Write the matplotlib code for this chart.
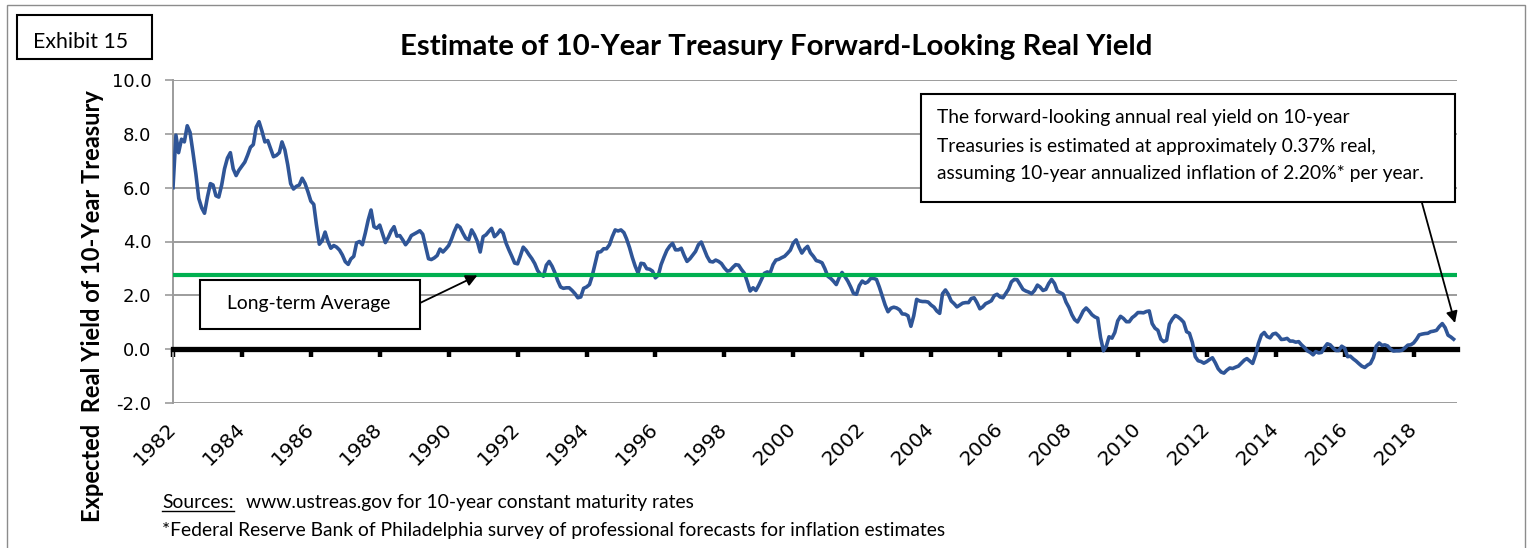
import numpy as np
import pandas as pd
import matplotlib
matplotlib.use("Agg")
import matplotlib.pyplot as plt
import matplotlib.dates as mdates
from matplotlib.patches import Rectangle
from matplotlib.lines import Line2D

# ---------------- data (monthly expected real yield, %) ----------------
ry_1982 = [6.0, 7.95, 7.3, 7.8, 7.7, 8.3, 8.05, 7.3, 6.5, 5.6, 5.25, 5.05]
ry_1983 = [5.65, 6.15, 6.1, 5.7, 5.65, 6.1, 6.7, 7.1, 7.3, 6.7, 6.45, 6.65]
ry_1984 = [6.8, 6.95, 7.2, 7.5, 7.6, 8.25, 8.45, 8.1, 7.7, 7.75, 7.45, 7.15]
ry_1985 = [7.2, 7.3, 7.7, 7.4, 6.85, 6.15, 5.95, 6.05, 6.1, 6.35, 6.15, 5.85]
ry_1986 = [5.5, 5.38, 4.63, 3.9, 4.03, 4.35, 4.0, 3.75, 3.85, 3.79, 3.68, 3.5]
ry_1987 = [3.25, 3.15, 3.35, 3.45, 3.95, 4.0, 3.88, 4.31, 4.8, 5.17, 4.55, 4.49]
ry_1988 = [4.61, 4.27, 3.96, 4.15, 4.39, 4.55, 4.2, 4.22, 4.06, 3.88, 4.02, 4.22]
ry_1989 = [4.28, 4.34, 4.4, 4.27, 3.82, 3.36, 3.33, 3.39, 3.48, 3.72, 3.61, 3.72]
ry_1990 = [3.85, 4.1, 4.37, 4.61, 4.53, 4.31, 4.12, 4.06, 4.43, 4.25, 4.0, 3.61]
ry_1991 = [4.18, 4.25, 4.37, 4.49, 4.18, 4.28, 4.43, 4.31, 3.94, 3.69, 3.45, 3.2]
ry_1992 = [3.17, 3.48, 3.79, 3.67, 3.51, 3.36, 3.18, 2.92, 2.78, 2.71, 3.12, 3.26]
ry_1993 = [3.08, 2.83, 2.55, 2.31, 2.26, 2.28, 2.28, 2.18, 2.06, 1.91, 1.94, 2.26]
ry_1994 = [2.31, 2.4, 2.71, 3.17, 3.6, 3.62, 3.73, 3.73, 3.88, 4.18, 4.43, 4.39]
ry_1995 = [4.43, 4.33, 4.1, 3.78, 3.41, 3.08, 2.83, 3.19, 3.17, 2.99, 2.97, 2.9]
ry_1996 = [2.65, 2.75, 3.14, 3.42, 3.67, 3.83, 3.93, 3.69, 3.69, 3.75, 3.48, 3.26]
ry_1997 = [3.36, 3.5, 3.63, 3.88, 3.98, 3.71, 3.45, 3.26, 3.24, 3.31, 3.26, 3.18]
ry_1998 = [3.02, 2.9, 2.92, 3.04, 3.14, 3.12, 2.96, 2.82, 2.5, 2.16, 2.28, 2.18]
ry_1999 = [2.38, 2.61, 2.82, 2.87, 2.83, 3.14, 3.31, 3.34, 3.4, 3.45, 3.56, 3.68]
ry_2000 = [3.94, 4.06, 3.8, 3.57, 3.72, 3.82, 3.58, 3.45, 3.29, 3.26, 3.21, 2.99]
ry_2001 = [2.71, 2.63, 2.53, 2.4, 2.65, 2.85, 2.7, 2.53, 2.31, 2.07, 2.04, 2.36]
ry_2002 = [2.53, 2.45, 2.5, 2.63, 2.63, 2.59, 2.31, 1.98, 1.64, 1.39, 1.52, 1.56]
ry_2003 = [1.53, 1.46, 1.31, 1.3, 1.24, 0.85, 1.24, 1.85, 1.79, 1.77, 1.77, 1.75]
ry_2004 = [1.64, 1.56, 1.42, 1.33, 2.06, 2.2, 2.04, 1.79, 1.69, 1.57, 1.64, 1.71]
ry_2005 = [1.73, 1.73, 1.88, 1.91, 1.73, 1.5, 1.57, 1.69, 1.74, 1.8, 1.99, 2.04]
ry_2006 = [1.94, 1.91, 2.06, 2.23, 2.5, 2.59, 2.58, 2.4, 2.22, 2.16, 2.12, 2.06]
ry_2007 = [2.18, 2.38, 2.31, 2.18, 2.22, 2.44, 2.59, 2.44, 2.15, 2.1, 2.04, 1.75]
ry_2008 = [1.55, 1.28, 1.1, 1.01, 1.2, 1.42, 1.53, 1.42, 1.28, 1.2, 1.15, 0.43]
ry_2009 = [-0.06, 0.12, 0.46, 0.41, 0.62, 1.05, 1.22, 1.14, 1.02, 1.02, 1.17, 1.25]
ry_2010 = [1.36, 1.36, 1.35, 1.4, 1.42, 0.95, 0.78, 0.7, 0.37, 0.28, 0.33, 0.93]
ry_2011 = [1.12, 1.25, 1.2, 1.11, 1.0, 0.65, 0.59, 0.25, -0.28, -0.43, -0.46, -0.52]
ry_2012 = [-0.46, -0.38, -0.32, -0.51, -0.73, -0.85, -0.89, -0.78, -0.7, -0.72, -0.67, -0.63]
ry_2013 = [-0.52, -0.41, -0.35, -0.44, -0.53, -0.21, 0.21, 0.52, 0.62, 0.47, 0.42, 0.56]
ry_2014 = [0.59, 0.49, 0.36, 0.37, 0.4, 0.3, 0.3, 0.26, 0.28, 0.16, 0.06, -0.06]
ry_2015 = [-0.12, -0.21, -0.09, -0.14, -0.12, 0.06, 0.2, 0.16, 0.04, -0.05, -0.05, 0.11]
ry_2016 = [0.04, -0.28, -0.26, -0.36, -0.44, -0.54, -0.63, -0.68, -0.59, -0.53, -0.31, 0.11]
ry_2017 = [0.23, 0.14, 0.16, 0.12, 0.0, -0.07, -0.06, -0.06, -0.04, 0.05, 0.15, 0.16]
ry_2018 = [0.23, 0.37, 0.53, 0.56, 0.58, 0.59, 0.65, 0.67, 0.7, 0.84, 0.95, 0.8]
ry_2019 = [0.52, 0.45, 0.37]

yearly = [ry_1982, ry_1983, ry_1984, ry_1985, ry_1986, ry_1987, ry_1988, ry_1989,
          ry_1990, ry_1991, ry_1992, ry_1993, ry_1994, ry_1995, ry_1996, ry_1997,
          ry_1998, ry_1999, ry_2000, ry_2001, ry_2002, ry_2003, ry_2004, ry_2005,
          ry_2006, ry_2007, ry_2008, ry_2009, ry_2010, ry_2011, ry_2012, ry_2013,
          ry_2014, ry_2015, ry_2016, ry_2017, ry_2018, ry_2019]
real_yield = [v for yr in yearly for v in yr]
start_month = "1982-01-01"
long_term_average = 2.74

tick_years = list(range(1982, 2019, 2))
tick_labels = [str(y) for y in tick_years]
y_ticks = [-2, 0, 2, 4, 6, 8, 10]
y_tick_labels = ["-2.0", "0.0", "2.0", "4.0", "6.0", "8.0", "10.0"]

title = "Estimate of 10-Year Treasury Forward-Looking Real Yield"
y_label = "Expected  Real Yield of 10-Year Treasury"
note_lines = ["The forward-looking annual real yield on 10-year",
              "Treasuries is estimated at approximately 0.37% real,",
              "assuming 10-year annualized inflation of 2.20%* per year."]
avg_label = "Long-term Average"
exhibit = "Exhibit 15"
src_head = "Sources:"
src_line1 = "www.ustreas.gov for 10-year constant maturity rates"
src_line2 = "*Federal Reserve Bank of Philadelphia survey of professional forecasts for inflation estimates"

# ---------------- figure ----------------
W, H = 1532, 548
fig = plt.figure(figsize=(W / 100, H / 100), dpi=100)
fig.patch.set_facecolor("white")


def fxy(x, y):
    return x / W, 1 - y / H


BLUE = "#2F5597"
GREEN = "#00B050"
GRID = "#9C9C9C"

ax_l, ax_r, ax_t, ax_b = 173, 1457, 80, 403
ax = fig.add_axes([ax_l / W, 1 - ax_b / H, (ax_r - ax_l) / W, (ax_b - ax_t) / H])

dates = pd.date_range(start_month, periods=len(real_yield), freq="MS")
ax.plot(dates, real_yield, color=BLUE, lw=2.6, zorder=3, solid_joinstyle="round")
ax.axhline(long_term_average, color=GREEN, lw=3.0, zorder=4)

ax.set_ylim(-2, 10)
ax.set_xlim(pd.Timestamp("1982-01-01"), pd.Timestamp("2019-04-06"))

ax.set_yticks(y_ticks)
ax.set_yticklabels(y_tick_labels)
ax.tick_params(axis="y", direction="out", length=5.5, width=1.2, color=GRID, pad=10,
               labelsize=13)
ax.grid(axis="y", color=GRID, lw=1.4, zorder=1)
ax.grid(axis="x", visible=False)
for side in ("top", "right"):
    ax.spines[side].set_visible(False)
ax.spines["left"].set_color(GRID)
ax.spines["left"].set_linewidth(1.4)

tick_nums = [mdates.date2num(pd.Timestamp(f"{y}-01-01")) for y in tick_years]
ax.spines["bottom"].set_position(("data", 0))
ax.spines["bottom"].set_color("black")
ax.spines["bottom"].set_linewidth(3.8)
ax.spines["bottom"].set_zorder(2.5)
ax.set_xticks(tick_nums)
ax.tick_params(axis="x", direction="out", length=6, width=3.2, color="black",
               labelbottom=False)

sec = ax.secondary_xaxis("bottom")
sec.set_xticks(tick_nums)
sec.set_xticklabels(tick_labels, fontsize=14.5)
sec.tick_params(length=0, pad=16.5)
sec.spines["bottom"].set_visible(False)
for lbl in sec.get_xticklabels():
    lbl.set_rotation(45)
    lbl.set_ha("right")
    lbl.set_va("center")
    lbl.set_rotation_mode("anchor")
    lbl.set_fontsize(14.5)

# ---------------- frames and boxes ----------------
def box(x0, y0, x1, y1, ec="black", lw=1.5, fill=True):
    r = Rectangle(fxy(x0, y1), (x1 - x0) / W, (y1 - y0) / H, transform=fig.transFigure,
                  fc="white" if fill else "none", ec=ec, lw=lw, zorder=5)
    fig.add_artist(r)
    return r


box(7, 5, 1525, 600, ec="#8C8C8C", lw=1.0, fill=False)
box(17, 15, 152, 59)
box(200, 280, 420, 329)
box(921, 94, 1455, 202)

# ---------------- texts ----------------
renderer = fig.canvas.get_renderer()


def fit(texts, target, use_height=False):
    for _ in range(4):
        bb = texts[0].get_window_extent(renderer)
        cur = bb.height if use_height else bb.width
        fs = texts[0].get_fontsize() * target / cur
        for t in texts:
            t.set_fontsize(fs)


t_title = fig.text(*fxy(776, 55), title, ha="center", va="baseline",
                   family=["Lato", "DejaVu Sans"], weight="bold", fontsize=19, zorder=6)
fit([t_title], 752)

t_ex = fig.text(*fxy(80.5, 48), exhibit, ha="center", va="baseline",
                family=["Lato", "DejaVu Sans"], fontsize=13, zorder=6)
fit([t_ex], 95)

t_yl = fig.text(*fxy(93, 306), y_label, ha="center", va="center", rotation=90,
                family=["Lato", "DejaVu Sans"], weight="bold", fontsize=13, zorder=6)
fit([t_yl], 432, use_height=True)

t_avg = fig.text(*fxy(308.5, 309), avg_label, ha="center", va="baseline",
                 family=["Lato", "DejaVu Sans"], fontsize=13, zorder=6)
fit([t_avg], 163)

note_base = [123, 151.5, 179]
t_notes = [fig.text(*fxy(937, yb), s, ha="left", va="baseline",
                    family=["Lato", "DejaVu Sans"], fontsize=13, zorder=6)
           for s, yb in zip(note_lines, note_base)]
fit([t_notes[2], t_notes[0], t_notes[1]], 490)

t_s0 = fig.text(*fxy(162, 508), src_head, ha="left", va="baseline",
                family=["Lato", "DejaVu Sans"], fontsize=12, zorder=6)
t_s1 = fig.text(*fxy(246, 508), src_line1, ha="left", va="baseline",
                family=["Lato", "DejaVu Sans"], fontsize=12, zorder=6)
t_s2 = fig.text(*fxy(162, 536), src_line2, ha="left", va="baseline",
                family=["Lato", "DejaVu Sans"], fontsize=12, zorder=6)
fit([t_s2, t_s0, t_s1], 786)

bb = t_s0.get_window_extent(renderer)
fig.add_artist(Line2D([bb.x0 / W, bb.x1 / W], [(1 - 511 / H)] * 2,
                      transform=fig.transFigure, color="black", lw=1.0, zorder=6))

# ---------------- arrows ----------------
ax.annotate("", xy=(mdates.date2num(pd.Timestamp("1990-11-01")), long_term_average),
            xycoords="data", xytext=fxy(420, 303), textcoords="figure fraction",
            arrowprops=dict(arrowstyle="-|>", color="black", lw=1.3, mutation_scale=17,
                            shrinkA=0, shrinkB=0), annotation_clip=False, zorder=7)
ax.annotate("", xy=fxy(1455, 323), xycoords="figure fraction",
            xytext=fxy(1422, 203), textcoords="figure fraction",
            arrowprops=dict(arrowstyle="-|>", color="black", lw=1.3, mutation_scale=17,
                            shrinkA=0, shrinkB=0), annotation_clip=False, zorder=7)

fig.savefig("out.png", dpi=100, facecolor="white")
